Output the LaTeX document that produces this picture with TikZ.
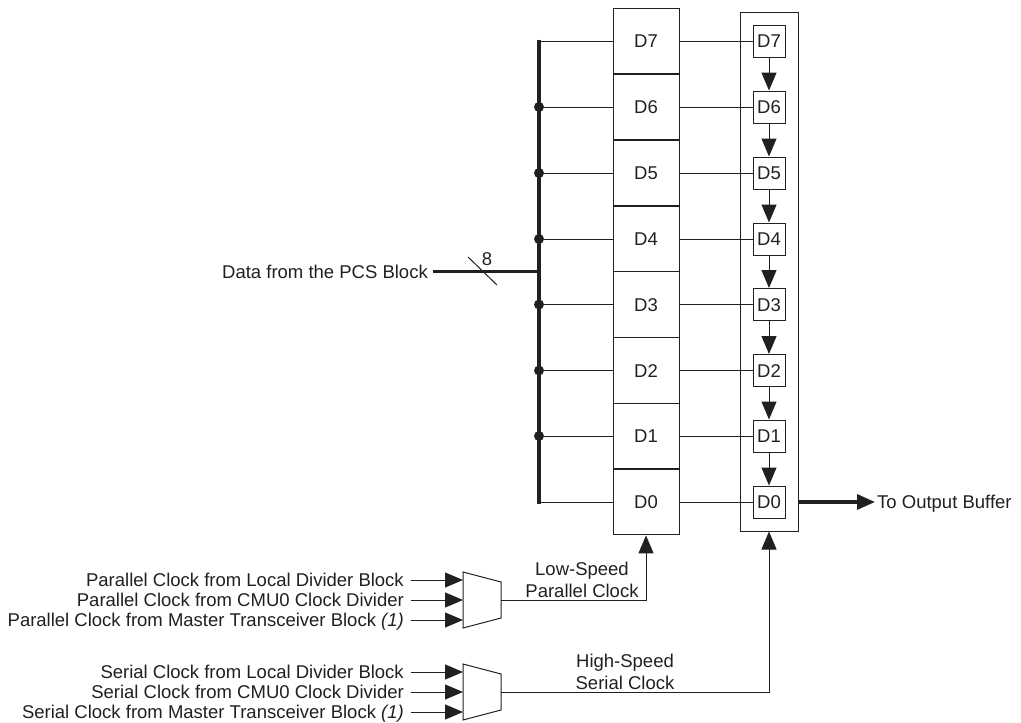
\documentclass[tikz,border=0pt]{standalone}
\usepackage{fontspec}
\setmainfont{Liberation Sans}
\usetikzlibrary{arrows.meta}
\definecolor{ink}{RGB}{35,31,32}
\tikzset{
  lbl/.style={font=\fontsize{18.5}{22}\selectfont,text=ink,inner sep=0pt},
  one/.style={lbl,text height=15pt,text depth=2pt},
  reg/.style={one,draw=ink,line width=1pt,minimum width=66pt,minimum height=65.8pt},
  small/.style={one,draw=ink,line width=1pt,fill=white,minimum size=32pt},
  joint/.style={circle,fill=ink,minimum size=10pt,inner sep=0pt},
  wire/.style={draw=ink,line width=1pt},
  bus/.style={draw=ink,line width=3.3pt},
  tip/.style={-{Triangle[length=18pt,width=15pt]},ink},
}
\begin{document}
\begin{tikzpicture}[x=1pt,y=-1pt]
\useasboundingbox (0,0) rectangle (1021,723);
\node[draw=ink,line width=1pt,minimum width=58pt,minimum height=519pt,inner sep=0pt] (frame) at (769,271.5) {};
\node[reg] (r7) at (646,41) {D7};
\node[reg] (r6) at (646,107) {D6};
\node[reg] (r5) at (646,173) {D5};
\node[reg] (r4) at (646,239) {D4};
\node[reg] (r3) at (646,304.5) {D3};
\node[reg] (r2) at (646,370.5) {D2};
\node[reg] (r1) at (646,436) {D1};
\node[reg] (r0) at (646,502) {D0};
\node[small] (s7) at (769,41) {D7};
\node[small] (s6) at (769,107) {D6};
\node[small] (s5) at (769,173) {D5};
\node[small] (s4) at (769,239) {D4};
\node[small] (s3) at (769,304.5) {D3};
\node[small] (s2) at (769,370.5) {D2};
\node[small] (s1) at (769,436) {D1};
\node[small] (s0) at (769,502) {D0};
\coordinate (b7) at (539,41);
\node[joint] (b6) at (539,107) {};
\node[joint] (b5) at (539,173) {};
\node[joint] (b4) at (539,239) {};
\node[joint] (b3) at (539,304.5) {};
\node[joint] (b2) at (539,370.5) {};
\node[joint] (b1) at (539,436) {};
\coordinate (b0) at (539,502);
\draw[bus] (539,39.5) -- (539,503.5);
\draw[wire] (b7) -- (r7);
\draw[wire] (b6) -- (r6);
\draw[wire] (b5) -- (r5);
\draw[wire] (b4) -- (r4);
\draw[wire] (b3) -- (r3);
\draw[wire] (b2) -- (r2);
\draw[wire] (b1) -- (r1);
\draw[wire] (b0) -- (r0);
\draw[wire] (r7) -- (s7);
\draw[wire] (r6) -- (s6);
\draw[wire] (r5) -- (s5);
\draw[wire] (r4) -- (s4);
\draw[wire] (r3) -- (s3);
\draw[wire] (r2) -- (s2);
\draw[wire] (r1) -- (s1);
\draw[wire] (r0) -- (s0);
\draw[wire,tip] (s7) -- (s6);
\draw[wire,tip] (s6) -- (s5);
\draw[wire,tip] (s5) -- (s4);
\draw[wire,tip] (s4) -- (s3);
\draw[wire,tip] (s3) -- (s2);
\draw[wire,tip] (s2) -- (s1);
\draw[wire,tip] (s1) -- (s0);
\node[one,anchor=east,inner xsep=5pt] (data) at (433,271.5) {Data from the PCS Block};
\coordinate (busin) at (539,271.5);
\draw[bus] (data) -- (busin);
\coordinate (sl0) at (468,257);
\coordinate (sl1) at (497,285);
\draw[wire] (sl0) -- (sl1);
\node[one] (width) at (487,259) {8};
\node[one,anchor=west,inner xsep=2pt] (out) at (875,502) {To Output Buffer};
\draw[bus,tip] (frame.east |- out.west) -- (out.west);
\draw[wire] (463,572) -- (501,582) -- (501,618) -- (463,628) -- cycle;
\draw[wire] (463,664) -- (501,674) -- (501,710) -- (463,720) -- cycle;
\coordinate (mp) at (463,600);
\coordinate (mpout) at (501,600);
\coordinate (ms) at (463,692);
\coordinate (msout) at (501,692);
\node[one,anchor=east,inner xsep=7pt] (p2) at (411,580) {Parallel Clock from Local Divider Block};
\node[one,anchor=east,inner xsep=7pt] (p1) at (411,600) {Parallel Clock from CMU0 Clock Divider};
\node[one,anchor=east,inner xsep=7pt] (p0) at (411,620) {Parallel Clock from Master Transceiver Block \textit{(1)}};
\node[one,anchor=east,inner xsep=7pt] (c2) at (411,672) {Serial Clock from Local Divider Block};
\node[one,anchor=east,inner xsep=7pt] (c1) at (411,692) {Serial Clock from CMU0 Clock Divider};
\node[one,anchor=east,inner xsep=7pt] (c0) at (411,712) {Serial Clock from Master Transceiver Block \textit{(1)}};
\draw[wire,tip] (p2.east) -- (p2.east -| mp);
\draw[wire,tip] (p1.east) -- (p1.east -| mp);
\draw[wire,tip] (p0.east) -- (p0.east -| mp);
\draw[wire,tip] (c2.east) -- (c2.east -| ms);
\draw[wire,tip] (c1.east) -- (c1.east -| ms);
\draw[wire,tip] (c0.east) -- (c0.east -| ms);
\draw[wire,tip] (mpout) -| (r0.south);
\draw[wire,tip] (msout) -| (frame.south);
\node[lbl,align=center] (lowspd) at (582,580) {Low-Speed\\Parallel Clock};
\node[lbl,align=center] (highspd) at (625,672) {High-Speed\\Serial Clock};
\end{tikzpicture}
\end{document}
